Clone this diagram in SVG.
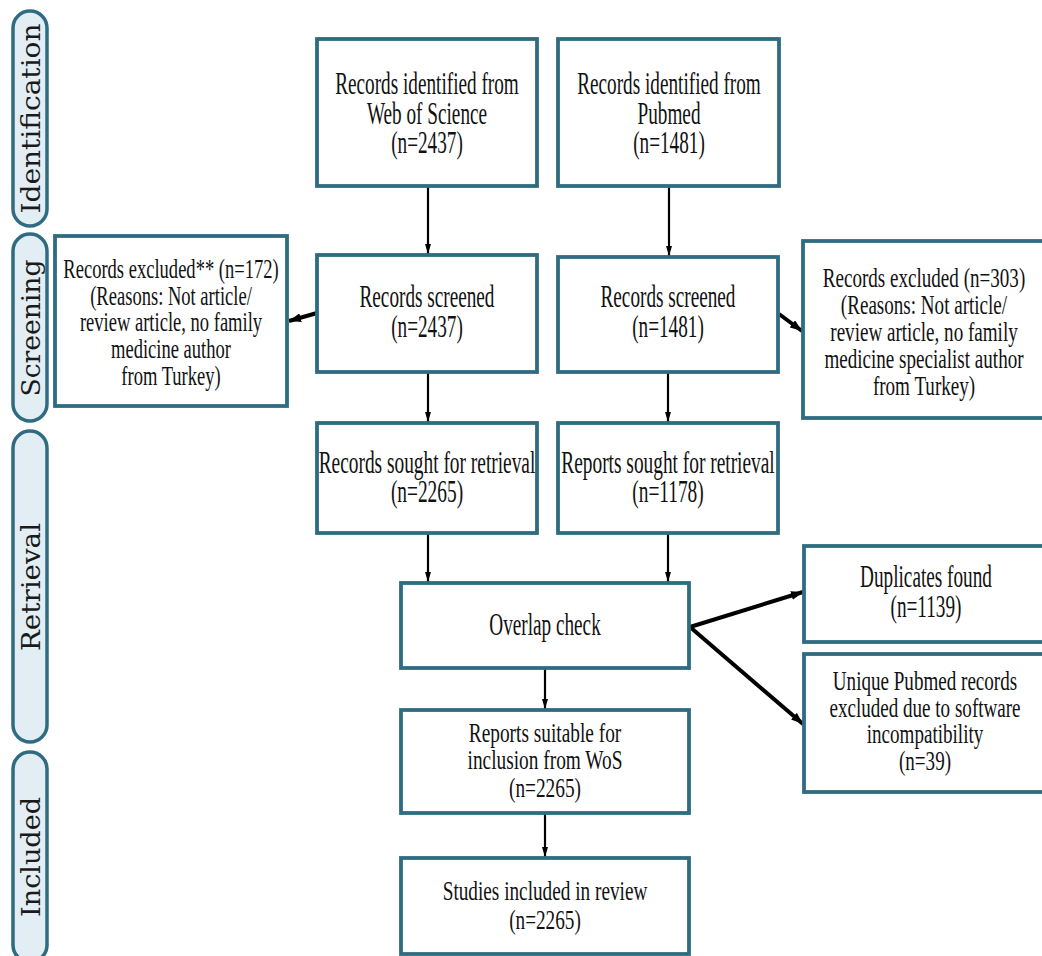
<svg xmlns="http://www.w3.org/2000/svg" width="1042" height="956" viewBox="0 0 1042 956">
<style>
.box{fill:#ffffff;stroke:#2f6c82;stroke-width:3.8}
.pill{fill:#e2edf4;stroke:#2f6c82;stroke-width:3.5}
.t{font-family:"Liberation Serif","Times New Roman",serif;fill:#111111;text-anchor:middle}
.big{font-size:31px}
.small{font-size:26.5px}
.ph{font-family:"DejaVu Serif",serif;font-size:26px;fill:#1a1a1a;text-anchor:middle}
.thin{stroke:#000;stroke-width:2.2;fill:none}
.thick{stroke:#000;stroke-width:4;fill:none}
</style>
<defs>
<marker id="ah" markerUnits="userSpaceOnUse" viewBox="0 0 10 6" refX="10" refY="3" markerWidth="10" markerHeight="6" orient="auto">
<path d="M0,0 L10,3 L0,6 z" fill="#000"/>
</marker>
<marker id="ahb" markerUnits="userSpaceOnUse" viewBox="0 0 12 9" refX="12" refY="4.5" markerWidth="12" markerHeight="9" orient="auto">
<path d="M0,0 L12,4.5 L0,9 z" fill="#000"/>
</marker>
</defs>
<rect width="1042" height="956" fill="#ffffff"/>

<g id="phases">
<g id="phase-identification">
<rect class="pill" x="13" y="11" width="34" height="215" rx="17"/>
<text class="ph" transform="translate(40,118.5) rotate(-90)" textLength="190" lengthAdjust="spacingAndGlyphs">Identification</text>
</g>
<g id="phase-screening">
<rect class="pill" x="13" y="234" width="34" height="187" rx="17"/>
<text class="ph" transform="translate(40,328) rotate(-90)" textLength="137" lengthAdjust="spacingAndGlyphs">Screening</text>
</g>
<g id="phase-retrieval">
<rect class="pill" x="13" y="431" width="34" height="311" rx="17"/>
<text class="ph" transform="translate(40,587) rotate(-90)" textLength="128" lengthAdjust="spacingAndGlyphs">Retrieval</text>
</g>
<g id="phase-included">
<rect class="pill" x="13" y="752" width="34" height="210" rx="17"/>
<text class="ph" transform="translate(40,857) rotate(-90)" textLength="120" lengthAdjust="spacingAndGlyphs">Included</text>
</g>
</g>

<g id="connectors">
<path class="thin" d="M428,187 L428,254" marker-end="url(#ah)"/>
<path class="thin" d="M669,187 L669,256" marker-end="url(#ah)"/>
<path class="thin" d="M428,373 L428,422" marker-end="url(#ah)"/>
<path class="thin" d="M668,373 L668,422" marker-end="url(#ah)"/>
<path class="thin" d="M428,534 L428,582" marker-end="url(#ah)"/>
<path class="thin" d="M668,534 L668,582" marker-end="url(#ah)"/>
<path class="thin" d="M545,669 L545,709" marker-end="url(#ah)"/>
<path class="thin" d="M545,814 L545,857" marker-end="url(#ah)"/>
<path class="thick" d="M317,313 L289,321" marker-end="url(#ahb)"/>
<path class="thick" d="M779,314 L802,331" marker-end="url(#ahb)"/>
<path class="thick" d="M690,627 L803,592" marker-end="url(#ahb)"/>
<path class="thick" d="M690,627 L803,724" marker-end="url(#ahb)"/>
</g>

<g id="wos-identified">
<rect class="box" x="317" y="39" width="220" height="147"/>
<text class="t big" transform="translate(427,0) scale(0.62,1)"><tspan x="0" y="94">Records identified from</tspan><tspan x="0" y="124">Web of Science</tspan><tspan x="0" y="153">(n=2437)</tspan></text>
</g>
<g id="pubmed-identified">
<rect class="box" x="558" y="39" width="221" height="147"/>
<text class="t big" transform="translate(669,0) scale(0.62,1)"><tspan x="0" y="94">Records identified from</tspan><tspan x="0" y="124">Pubmed</tspan><tspan x="0" y="153">(n=1481)</tspan></text>
</g>
<g id="wos-excluded">
<rect class="box" x="55" y="236" width="232" height="170"/>
<text class="t small" transform="translate(171,0) scale(0.7,1)"><tspan x="0" y="278">Records excluded** (n=172)</tspan><tspan x="0" y="305">(Reasons: Not article/</tspan><tspan x="0" y="331">review article, no family</tspan><tspan x="0" y="358">medicine author</tspan><tspan x="0" y="385">from Turkey)</tspan></text>
</g>
<g id="wos-screened">
<rect class="box" x="317" y="255" width="220" height="117"/>
<text class="t big" transform="translate(427,0) scale(0.62,1)"><tspan x="0" y="307">Records screened</tspan><tspan x="0" y="337">(n=2437)</tspan></text>
</g>
<g id="pubmed-screened">
<rect class="box" x="558" y="257" width="220" height="115"/>
<text class="t big" transform="translate(668,0) scale(0.62,1)"><tspan x="0" y="307">Records screened</tspan><tspan x="0" y="337">(n=1481)</tspan></text>
</g>
<g id="pubmed-excluded">
<rect class="box" x="803" y="241" width="245" height="177"/>
<text class="t small" transform="translate(924,0) scale(0.72,1)"><tspan x="0" y="287">Records excluded (n=303)</tspan><tspan x="0" y="314">(Reasons: Not article/</tspan><tspan x="0" y="341">review article, no family</tspan><tspan x="0" y="368">medicine specialist author</tspan><tspan x="0" y="395">from Turkey)</tspan></text>
</g>
<g id="wos-sought">
<rect class="box" x="317" y="423" width="220" height="110"/>
<text class="t big" transform="translate(427,0) scale(0.625,1)"><tspan x="0" y="473">Records sought for retrieval</tspan><tspan x="0" y="502">(n=2265)</tspan></text>
</g>
<g id="pubmed-sought">
<rect class="box" x="558" y="423" width="220" height="110"/>
<text class="t big" transform="translate(668,0) scale(0.625,1)"><tspan x="0" y="473">Reports sought for retrieval</tspan><tspan x="0" y="502">(n=1178)</tspan></text>
</g>
<g id="overlap-check">
<rect class="box" x="401" y="583" width="288" height="85"/>
<text class="t big" transform="translate(545,0) scale(0.62,1)"><tspan x="0" y="635">Overlap check</tspan></text>
</g>
<g id="duplicates">
<rect class="box" x="804" y="546" width="245" height="96"/>
<text class="t big" transform="translate(926,0) scale(0.62,1)"><tspan x="0" y="587">Duplicates found</tspan><tspan x="0" y="617">(n=1139)</tspan></text>
</g>
<g id="unique-excluded">
<rect class="box" x="804" y="654" width="245" height="138"/>
<text class="t small" transform="translate(925,0) scale(0.72,1)"><tspan x="0" y="690">Unique Pubmed records</tspan><tspan x="0" y="717">excluded due to software</tspan><tspan x="0" y="743">incompatibility</tspan><tspan x="0" y="770">(n=39)</tspan></text>
</g>
<g id="reports-suitable">
<rect class="box" x="401" y="710" width="288" height="103"/>
<text class="t small" transform="translate(545,0) scale(0.73,1)"><tspan x="0" y="742">Reports suitable for</tspan><tspan x="0" y="769">inclusion from WoS</tspan><tspan x="0" y="797">(n=2265)</tspan></text>
</g>
<g id="studies-included">
<rect class="box" x="401" y="858" width="288" height="96"/>
<text class="t" font-size="27.5" transform="translate(545,0) scale(0.7,1)"><tspan x="0" y="900">Studies included in review</tspan><tspan x="0" y="929">(n=2265)</tspan></text>
</g>
</svg>
